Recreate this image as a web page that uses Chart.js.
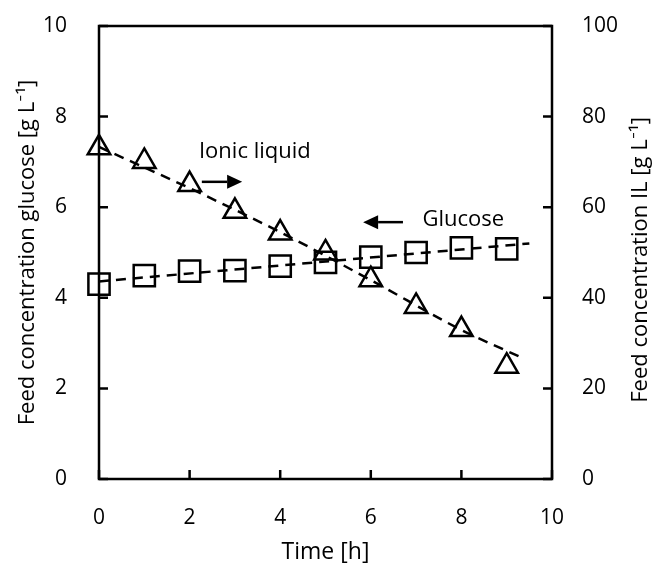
<!DOCTYPE html>
<html>
<head>
<meta charset="utf-8">
<script src="https://cdn.jsdelivr.net/npm/chart.js@4.4.1/dist/chart.umd.min.js"></script>
<style>
  body { margin: 0; background: #fff; }
  canvas { display: block; }
</style>
</head>
<body>
<canvas id="chart" width="654" height="565"></canvas>
<script>
// sampling times [h]
const times = [0, 1, 2, 3, 4, 5, 6, 7, 8, 9];
// feed concentration glucose [g/L] (left axis)
const glucose = [4.3, 4.49, 4.59, 4.6, 4.7, 4.78, 4.9, 5.0, 5.1, 5.08];
// feed concentration ionic liquid [g/L] (right axis)
const ionicLiquid = [73.1, 70.1, 65.0, 59.1, 54.3, 49.9, 44.0, 38.1, 33.0, 24.9];

// dashed trend lines
const glucoseTrendX = [0, 9.5];
const glucoseTrendY = [4.36, 5.2];
const ilTrendX = [0, 2, 4, 6, 8, 9.4];
const ilTrendY = [73.3, 64.2, 54.5, 43.9, 32.9, 26.5];

const FONT = '"Open Sans", Lato, sans-serif';
const toXY = (xs, ys) => xs.map((x, i) => ({ x: x, y: ys[i] }));

// no extra room for the end tick labels, the frame is placed by hand
const noPad = s => { s.paddingTop = 0; s.paddingBottom = 0; s.paddingLeft = 0; s.paddingRight = 0; };

// inward tick marks, frame, right title and the two arrow labels
const decorations = {
  id: 'decorations',
  afterDraw(chart) {
    const ctx = chart.ctx;
    const a = chart.chartArea;
    const sx = chart.scales.x, sy = chart.scales.y, sy2 = chart.scales.y2;
    ctx.save();
    ctx.strokeStyle = '#000';
    ctx.lineWidth = 2.5;
    ctx.strokeRect(a.left, a.top, a.right - a.left, a.bottom - a.top);

    const tl = 9;
    ctx.beginPath();
    sx.ticks.forEach(t => {
      const px = sx.getPixelForValue(t.value);
      ctx.moveTo(px, a.bottom); ctx.lineTo(px, a.bottom - tl);
    });
    sy.ticks.forEach(t => {
      const py = sy.getPixelForValue(t.value);
      ctx.moveTo(a.left, py); ctx.lineTo(a.left + tl, py);
    });
    sy2.ticks.forEach(t => {
      const py = sy2.getPixelForValue(t.value);
      ctx.moveTo(a.right, py); ctx.lineTo(a.right - tl, py);
    });
    ctx.stroke();

    // right axis title, reading bottom to top
    ctx.fillStyle = '#000';
    ctx.font = '22px ' + FONT;
    ctx.textAlign = 'center';
    ctx.textBaseline = 'middle';
    ctx.save();
    ctx.translate(641, 260);
    ctx.rotate(-Math.PI / 2);
    ctx.fillText('Feed concentration IL [g L\u207B\u00B9]', 0, 0);
    ctx.restore();

    // labels with arrows
    ctx.font = '22px ' + FONT;
    ctx.fillText('Ionic liquid', sx.getPixelForValue(3.44), sy.getPixelForValue(7.22));
    ctx.fillText('Glucose', sx.getPixelForValue(8.04), sy.getPixelForValue(5.72));
    arrow(ctx, sx.getPixelForValue(2.27), sx.getPixelForValue(3.16), sy.getPixelForValue(6.56));
    arrow(ctx, sx.getPixelForValue(6.71), sx.getPixelForValue(5.83), sy.getPixelForValue(5.67));
    ctx.restore();
  }
};

function arrow(ctx, x0, x1, y) {
  const dir = Math.sign(x1 - x0);
  const head = 15;
  ctx.beginPath();
  ctx.lineWidth = 2.5;
  ctx.moveTo(x0, y);
  ctx.lineTo(x1 - dir * head, y);
  ctx.stroke();
  ctx.beginPath();
  ctx.moveTo(x1, y);
  ctx.lineTo(x1 - dir * head, y - 7);
  ctx.lineTo(x1 - dir * head, y + 7);
  ctx.closePath();
  ctx.fill();
}

new Chart(document.getElementById('chart'), {
  type: 'scatter',
  data: {
    datasets: [
      {
        label: 'Glucose trend',
        data: toXY(glucoseTrendX, glucoseTrendY),
        yAxisID: 'y',
        showLine: true,
        borderColor: '#000',
        borderWidth: 2.5,
        borderDash: [10, 7],
        pointRadius: 0,
        clip: false
      },
      {
        label: 'IL trend',
        data: toXY(ilTrendX, ilTrendY),
        yAxisID: 'y2',
        showLine: true,
        borderColor: '#000',
        borderWidth: 2.5,
        borderDash: [10, 7],
        cubicInterpolationMode: 'monotone',
        pointRadius: 0,
        clip: false
      },
      {
        label: 'Glucose',
        data: toXY(times, glucose),
        yAxisID: 'y',
        pointStyle: 'rect',
        pointRadius: 15,
        pointBorderWidth: 2.5,
        borderColor: '#000',
        backgroundColor: 'rgba(0,0,0,0)',
        clip: false
      },
      {
        label: 'Ionic liquid',
        data: toXY(times, ionicLiquid),
        yAxisID: 'y2',
        pointStyle: 'triangle',
        pointRadius: 13,
        pointBorderWidth: 2.5,
        borderColor: '#000',
        backgroundColor: 'rgba(0,0,0,0)',
        clip: false
      }
    ]
  },
  options: {
    responsive: false,
    animation: false,
    layout: { padding: { top: 26, left: 0, right: 0, bottom: 0 } },
    plugins: {
      legend: { display: false },
      tooltip: { enabled: false }
    },
    scales: {
      x: {
        type: 'linear',
        position: 'bottom',
        min: 0, max: 10,
        grid: { display: false },
        border: { display: false },
        ticks: { stepSize: 2, padding: 18, color: '#000', font: { family: FONT, size: 21 } },
        title: { display: true, text: 'Time [h]', color: '#000', padding: 0, font: { family: FONT, size: 23, lineHeight: 1.1 } },
        afterFit: s => { noPad(s); s.height = 86; }
      },
      y: {
        type: 'linear',
        position: 'left',
        min: 0, max: 10,
        grid: { display: false },
        border: { display: false },
        ticks: { stepSize: 2, padding: 24, color: '#000', font: { family: FONT, size: 21 } },
        title: { display: true, text: 'Feed concentration glucose [g L\u207B\u00B9]', color: '#000', padding: { top: 15, bottom: 0 }, font: { family: FONT, size: 22, lineHeight: 1.2 } },
        afterFit: s => { noPad(s); s.width = 99; }
      },
      y2: {
        type: 'linear',
        position: 'right',
        min: 0, max: 100,
        grid: { display: false },
        border: { display: false },
        ticks: { stepSize: 20, padding: 22, color: '#000', font: { family: FONT, size: 21 } },
        afterFit: s => { noPad(s); s.width = 102; }
      }
    }
  },
  plugins: [decorations]
});
</script>
</body>
</html>
